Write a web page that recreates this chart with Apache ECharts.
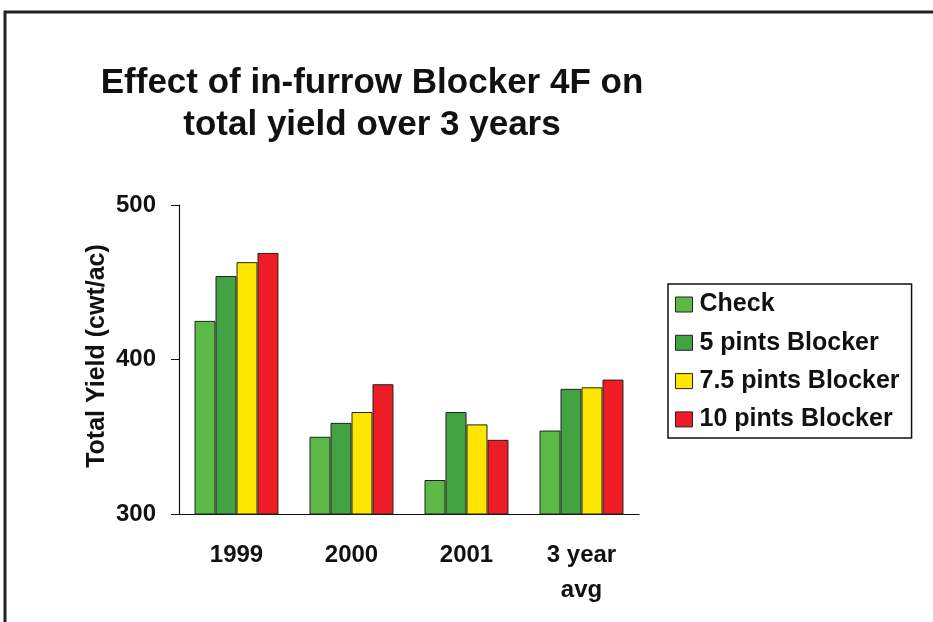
<!DOCTYPE html>
<html><head><meta charset="utf-8">
<script src="https://cdn.jsdelivr.net/npm/echarts@6/dist/echarts.min.js"></script>
<style>html,body{margin:0;padding:0;background:#fff}#c{width:933px;height:622px}</style>
</head><body><div id="c"></div>
<script>
const categories = ['1999', '2000', '2001', '3 year\navg'];
const seriesNames = ['Check', '5 pints Blocker', '7.5 pints Blocker', '10 pints Blocker'];
const checkVals = [425, 350, 322, 354];
const pints5Vals = [454, 359, 366, 381];
const pints75Vals = [463, 366, 358, 382];
const pints10Vals = [469, 384, 348, 387];
const yTicks = [300, 400, 500];
const colors = ['#5CB946', '#43A343', '#FFE600', '#EE1D25'];

const font = 'Liberation Sans, Arial, sans-serif';
const allVals = [checkVals, pints5Vals, pints75Vals, pints10Vals];
const chart = echarts.init(document.getElementById('c'));
chart.setOption({
  animation: false,
  backgroundColor: '#fff',
  title: {
    text: 'Effect of in-furrow Blocker 4F on\ntotal yield over 3 years',
    left: 372, top: 62, textAlign: 'center', padding: 0,
    textStyle: { fontFamily: font, fontWeight: 'bold', fontSize: 35, lineHeight: 42, color: '#111' }
  },
  graphic: [
    { type: 'rect', shape: { x: 5, y: 12, width: 1000, height: 1000 }, style: { fill: 'none', stroke: '#222', lineWidth: 3 }, z: 100 },
    { type: 'text', x: 97, y: 356, rotation: Math.PI / 2,
      style: { text: 'Total Yield (cwt/ac)', fontFamily: font, fontWeight: 'bold', fontSize: 25, fill: '#111', align: 'center', verticalAlign: 'middle' } }
  ],
  legend: {
    orient: 'vertical', left: 668, top: 284,
    data: seriesNames,
    borderColor: '#111', borderWidth: 1.5, borderRadius: 0,
    padding: [8, 12, 6, 7],
    itemWidth: 17, itemHeight: 15, itemGap: 13.3,
    icon: 'rect',
    itemStyle: { borderColor: '#222', borderWidth: 1 },
    textStyle: { fontFamily: font, fontWeight: 'bold', fontSize: 25, lineHeight: 24, color: '#111', padding: [0, 0, 0, 2] }
  },
  grid: { left: 179, right: 294, top: 205, bottom: 108 },
  xAxis: {
    type: 'category', data: categories,
    axisLine: { lineStyle: { color: '#111', width: 1.2 } },
    axisTick: { length: 7, lineStyle: { color: '#111' } },
    axisLabel: { margin: 24, fontFamily: font, fontWeight: 'bold', fontSize: 24, lineHeight: 35, color: '#111' }
  },
  yAxis: {
    type: 'value', min: yTicks[0], max: yTicks[yTicks.length - 1], interval: 100,
    splitLine: { show: false },
    axisLine: { show: true, lineStyle: { color: '#111', width: 1.2 } },
    axisTick: { show: true, length: 8, lineStyle: { color: '#111' } },
    axisLabel: { margin: 23, fontFamily: font, fontWeight: 'bold', fontSize: 24, color: '#111' }
  },
  series: seriesNames.map((n, i) => ({
    name: n, type: 'bar', data: allVals[i],
    barGap: 0, barCategoryGap: '27%',
    itemStyle: { color: colors[i], borderColor: '#222', borderWidth: 1 }
  }))
});
</script></body></html>
